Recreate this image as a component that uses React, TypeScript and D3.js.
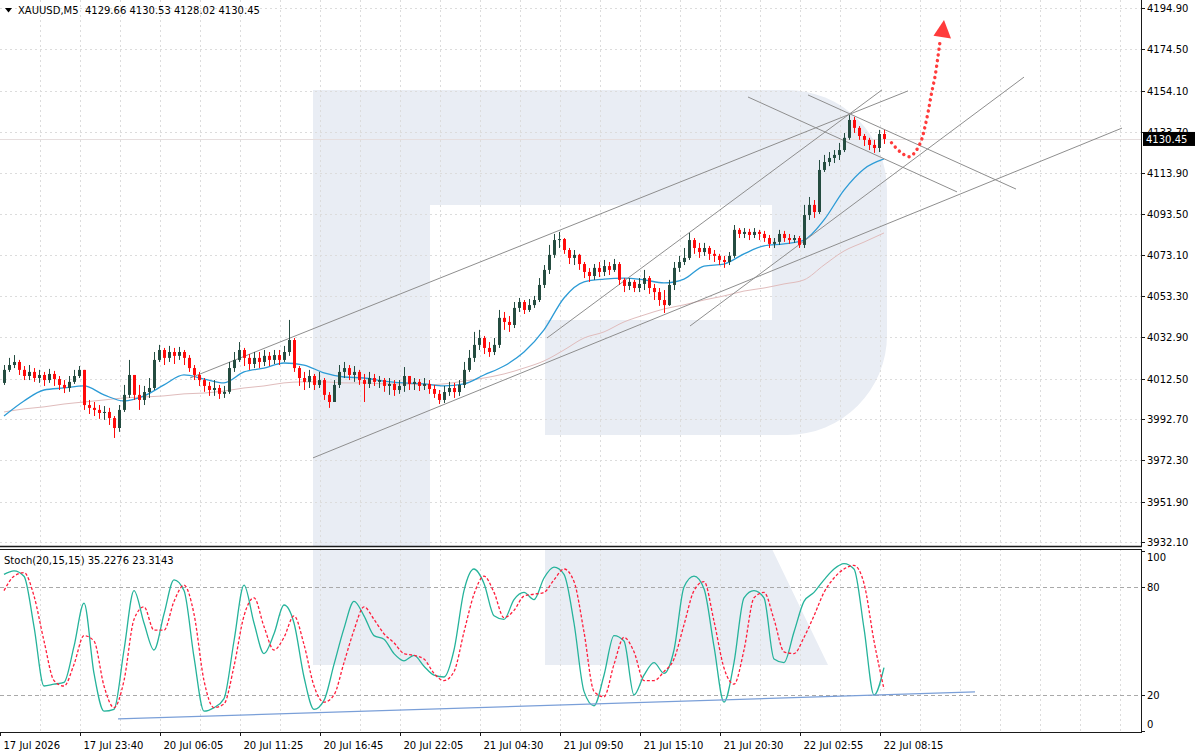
import React, { useEffect, useRef } from "react";
import * as d3 from "d3";

const W = 1200;
const H = 756;

const symbolLegend = "XAUUSD,M5  4129.66 4130.53 4128.02 4130.45";
const stochLegend = "Stoch(20,15,15) 35.2276 23.3143";
const lastPrice = 4130.45;
const firstOpen = 4010.4;

// aggregated candles (each = 4 x M5 bars)
const closes = [
  4016.8, 4019.2, 4020.7, 4016.8, 4013.8, 4015.8, 4012.8, 4014.3, 4011.8, 4014.8,
  4012.3, 4009.4, 4007.9, 4010.9, 4013.8, 4016.8, 3999.5, 3998.1, 3997.1, 3995.6,
  3996.1, 3993.1, 3988.2, 3997.1, 4004.5, 4014.3, 4004.5, 4002.0, 4005.9, 4007.9,
  4021.7, 4026.6, 4022.7, 4025.6, 4023.7, 4025.6, 4022.7, 4017.7, 4014.3, 4011.8,
  4008.9, 4006.9, 4007.9, 4005.0, 4006.0, 4017.7, 4021.7, 4026.6, 4022.7, 4019.7,
  4022.7, 4020.7, 4023.7, 4021.7, 4024.1, 4021.7, 4025.6, 4031.5, 4017.7, 4012.8,
  4010.9, 4013.8, 4009.4, 4011.8, 4004.5, 4001.0, 4009.4, 4015.8, 4017.7, 4014.3,
  4015.8, 4011.8, 4009.9, 4012.8, 4010.9, 4011.8, 4008.9, 4009.9, 4006.9, 4008.9,
  4013.8, 4009.9, 4010.9, 4008.9, 4009.9, 4007.4, 4005.0, 4002.0, 4005.9, 4007.9,
  4005.9, 4009.4, 4016.8, 4022.7, 4029.1, 4032.5, 4027.6, 4025.6, 4029.1, 4042.4,
  4040.4, 4038.9, 4047.3, 4050.2, 4046.3, 4048.7, 4051.2, 4058.6, 4066.0, 4073.4,
  4080.7, 4081.2, 4075.8, 4071.9, 4073.4, 4068.9, 4065.0, 4063.0, 4067.0, 4065.0,
  4067.9, 4066.0, 4068.9, 4061.1, 4058.1, 4060.1, 4057.1, 4059.1, 4062.0, 4057.1,
  4055.1, 4051.2, 4048.7, 4058.6, 4067.0, 4069.9, 4071.9, 4080.7, 4076.8, 4074.8,
  4076.8, 4073.9, 4072.9, 4070.9, 4069.9, 4072.9, 4085.7, 4083.7, 4084.7, 4083.2,
  4084.7, 4083.7, 4081.7, 4078.8, 4079.8, 4083.7, 4081.7, 4080.7, 4081.7, 4078.3,
  4093.0, 4098.0, 4094.5, 4115.2, 4119.1, 4121.1, 4122.6, 4125.0, 4131.0, 4139.8,
  4135.9, 4131.9, 4130.0, 4127.5, 4126.0, 4132.9, 4130.45,
];

const highs = [
  4019.2, 4022.7, 4024.1, 4021.7, 4018.7, 4019.2, 4017.7, 4016.8, 4015.8, 4017.3,
  4016.3, 4013.8, 4011.8, 4013.8, 4016.8, 4018.7, 4016.8, 4002.0, 4001.0, 3999.5,
  3999.0, 3998.1, 3994.1, 3999.5, 4009.4, 4021.7, 4012.8, 4009.4, 4008.9, 4012.8,
  4025.6, 4029.1, 4027.6, 4028.6, 4027.6, 4028.1, 4026.6, 4024.1, 4019.2, 4015.8,
  4012.8, 4010.9, 4011.8, 4009.4, 4008.9, 4020.7, 4025.6, 4030.5, 4027.6, 4024.6,
  4025.6, 4025.6, 4026.6, 4025.6, 4026.6, 4026.6, 4028.6, 4041.4, 4032.5, 4018.7,
  4015.8, 4016.8, 4014.8, 4015.8, 4012.8, 4005.9, 4011.8, 4019.2, 4020.7, 4019.2,
  4018.7, 4016.8, 4014.8, 4015.8, 4014.8, 4013.8, 4012.8, 4012.8, 4011.8, 4011.8,
  4018.2, 4013.8, 4012.8, 4012.3, 4012.8, 4011.8, 4009.4, 4006.9, 4008.9, 4010.9,
  4010.4, 4011.8, 4020.7, 4026.6, 4035.5, 4036.5, 4033.5, 4030.5, 4032.5, 4046.3,
  4045.3, 4043.3, 4050.2, 4052.2, 4051.2, 4051.7, 4053.2, 4062.0, 4068.4, 4078.3,
  4083.7, 4084.7, 4081.7, 4076.8, 4075.8, 4073.9, 4069.9, 4066.9, 4068.9, 4069.9,
  4070.9, 4069.9, 4071.4, 4069.9, 4062.0, 4062.0, 4061.1, 4062.0, 4066.0, 4063.0,
  4059.1, 4057.1, 4056.1, 4061.1, 4069.9, 4072.9, 4076.8, 4084.2, 4081.7, 4079.3,
  4079.3, 4077.8, 4075.8, 4073.9, 4072.9, 4074.8, 4088.1, 4086.6, 4086.6, 4086.2,
  4086.6, 4085.7, 4085.2, 4083.2, 4081.7, 4085.7, 4085.2, 4083.7, 4083.2, 4082.7,
  4098.0, 4101.9, 4100.4, 4120.1, 4122.6, 4124.0, 4125.0, 4128.5, 4133.4, 4142.2,
  4141.3, 4136.8, 4132.9, 4131.0, 4130.0, 4134.9, 4134.9,
];

const lows = [
  4009.4, 4015.8, 4017.7, 4014.3, 4011.8, 4011.8, 4010.9, 4010.4, 4008.9, 4010.4,
  4008.9, 4006.9, 4005.4, 4006.0, 4009.9, 4012.8, 3997.1, 3995.1, 3994.1, 3992.7,
  3992.2, 3989.7, 3983.3, 3986.3, 3996.1, 4003.0, 4002.0, 3997.1, 3999.5, 4003.0,
  4006.9, 4020.7, 4019.2, 4020.7, 4019.7, 4021.7, 4019.2, 4015.8, 4011.8, 4008.9,
  4006.0, 4004.0, 4004.0, 4002.5, 4003.0, 4005.0, 4015.8, 4020.7, 4018.7, 4016.8,
  4017.7, 4017.7, 4018.7, 4018.7, 4019.7, 4019.2, 4020.7, 4023.7, 4015.8, 4008.9,
  4006.9, 4007.9, 4006.9, 4007.9, 4002.0, 3998.1, 4001.0, 4007.9, 4012.8, 4011.8,
  4010.9, 4009.4, 4001.0, 4007.9, 4008.9, 4007.9, 4006.0, 4004.5, 4004.0, 4005.0,
  4006.0, 4006.9, 4006.9, 4006.4, 4006.9, 4005.0, 4003.0, 4000.0, 4000.5, 4004.0,
  4003.0, 4004.0, 4007.9, 4015.8, 4020.7, 4026.6, 4024.6, 4023.2, 4024.1, 4027.6,
  4036.5, 4035.5, 4037.4, 4045.3, 4044.3, 4045.3, 4047.3, 4050.2, 4057.1, 4064.0,
  4071.9, 4076.8, 4073.9, 4068.9, 4068.4, 4066.0, 4062.0, 4060.1, 4061.1, 4062.5,
  4063.0, 4063.5, 4065.0, 4058.6, 4055.1, 4056.1, 4055.1, 4055.1, 4056.1, 4054.2,
  4051.2, 4048.3, 4044.8, 4048.3, 4056.1, 4065.0, 4068.4, 4070.9, 4073.9, 4071.9,
  4072.9, 4070.9, 4069.9, 4068.4, 4067.0, 4068.4, 4071.9, 4081.7, 4081.7, 4080.7,
  4081.7, 4080.7, 4079.8, 4076.8, 4076.8, 4078.3, 4079.8, 4078.8, 4079.3, 4076.8,
  4076.8, 4090.6, 4091.6, 4093.5, 4114.2, 4117.1, 4118.6, 4120.1, 4124.0, 4130.0,
  4133.4, 4130.0, 4127.0, 4125.0, 4123.6, 4124.0, 4128.0,
];

// moving averages, sampled every 4 candles
const maFast = [
  3994.1, 4001.5, 4006.9, 4007.9, 4008.9, 4004.5, 4001.5, 4004.0, 4009.4, 4014.3,
  4012.3, 4010.4, 4015.8, 4017.7, 4020.2, 4019.2, 4015.3, 4013.3, 4012.8, 4011.3,
  4010.4, 4009.9, 4008.9, 4009.9, 4014.3, 4018.7, 4025.6, 4036.5, 4052.2, 4060.1,
  4061.5, 4062.0, 4061.1, 4059.6, 4061.5, 4067.9, 4068.9, 4073.9, 4077.8, 4078.8,
  4080.7, 4090.6, 4105.3, 4115.7, 4120.6,
];
const maSlow = [
  3996.1, 3997.6, 3998.6, 4000.0, 4001.0, 4002.0, 4003.0, 4003.5, 4004.0, 4005.0,
  4005.4, 4006.4, 4007.9, 4008.9, 4010.4, 4010.9, 4010.9, 4010.4, 4010.4, 4009.9,
  4009.9, 4009.4, 4009.9, 4011.3, 4012.8, 4014.8, 4017.7, 4021.2, 4026.6, 4032.5,
  4035.5, 4040.4, 4043.8, 4046.8, 4048.8, 4051.2, 4053.2, 4055.6, 4057.1, 4059.1,
  4061.1, 4068.4, 4075.3, 4079.7, 4084.2,
];

// stochastic, sampled every 2 candles
const stochK = [
  87, 89, 86, 58, 25, 26, 27, 47, 71, 32,
  11, 12, 45, 78, 60, 45, 65, 84, 78, 41,
  11, 13, 18, 50, 81, 60, 43, 54, 70, 60,
  30, 12, 17, 37, 57, 72, 64, 53, 51, 43,
  39, 42, 36, 31, 30, 45, 78, 90, 82, 64,
  62, 73, 77, 73, 85, 91, 87, 60, 22, 14,
  31, 53, 50, 20, 31, 38, 32, 45, 80, 86,
  79, 47, 16, 38, 74, 78, 74, 40, 38, 55,
  72, 77, 84, 90, 93, 90, 57, 20, 35.2276,
];
const stochD = [
  78, 86, 88, 75, 50, 28, 25, 37, 53, 50,
  25, 13, 28, 62, 69, 56, 56, 72, 81, 65,
  28, 13, 15, 36, 64, 74, 58, 45, 52, 64,
  48, 25, 16, 20, 38, 56, 69, 62, 54, 49,
  43, 42, 40, 32, 28, 33, 55, 76, 86, 77,
  63, 67, 75, 76, 77, 84, 90, 83, 55, 22,
  19, 37, 52, 44, 28, 28, 33, 40, 59, 78,
  83, 61, 35, 26, 45, 74, 77, 62, 44, 43,
  52, 64, 77, 85, 90, 92, 82, 50, 23.3143,
];

const priceTicks = [
  4194.9, 4174.5, 4154.1, 4133.7, 4113.9, 4093.5, 4073.1, 4053.3, 4032.9,
  4012.5, 3992.7, 3972.3, 3951.9, 3932.1,
];
const timeLabels = [
  "17 Jul 2026", "17 Jul 23:40", "20 Jul 06:05", "20 Jul 11:25", "20 Jul 16:45",
  "20 Jul 22:05", "21 Jul 04:30", "21 Jul 09:50", "21 Jul 15:10", "21 Jul 20:30",
  "22 Jul 02:55", "22 Jul 08:15",
];
const stochLevels = [80, 20];
const stochTicks = [100, 80, 20, 0];

// drawings anchored in (candle index, price)
const trendLines = [
  [37.2, 4012.8, 180.8, 4154.1],
  [61.8, 3973.5, 223.6, 4135.8],
  [108.6, 4032.5, 175.6, 4154.6],
  [137.2, 4038.4, 204.0, 4160.9],
  [148.8, 4151.1, 190.6, 4104.4],
  [160.8, 4152.1, 202.4, 4105.8],
];
const stochTrend = [22.8, 6.7, 194.2, 21.7];
const forecastPath = [
  [177.5, 4128.6], [179.2, 4124.2], [181.1, 4121.7], [182.5, 4125.0], [183.5, 4130.0],
  [184.2, 4136.5], [184.9, 4144.7], [185.5, 4152.9], [186.2, 4161.1], [186.7, 4169.3],
  [187.2, 4178.3],
];
const forecastHead = [[185.9, 4181.2], [189.4, 4179.9], [188.0, 4189.0]];

const FONT = "DejaVu Sans, Tahoma, sans-serif";

export default function App() {
  const ref = useRef<SVGSVGElement>(null);

  useEffect(() => {
    document.body.style.margin = "0";
    const svg = d3.select(ref.current);
    svg.selectAll("*").remove();

    const mainR = 1141;
    const mainB = 546;
    const stTop = 549;
    const stBot = 732;

    const x = d3.scaleLinear().domain([0, closes.length - 1]).range([4, 884]);
    const y = d3.scaleLinear().domain([3932.1, 4194.9]).range([542, 8]);
    const ys = d3.scaleLinear().domain([0, 100]).range([731, 551]);

    svg.append("rect").attr("width", W).attr("height", H).attr("fill", "#ffffff");

    const ly = y(lastPrice);
    const defs = svg.append("defs");
    defs.append("clipPath").attr("id", "clipMain").append("rect")
      .attr("x", 0).attr("y", 0).attr("width", mainR).attr("height", mainB);
    defs.append("clipPath").attr("id", "clipSt").append("rect")
      .attr("x", 0).attr("y", stTop).attr("width", mainR).attr("height", stBot - stTop);
    defs.append("clipPath").attr("id", "clipAbove").append("rect")
      .attr("x", mainR).attr("y", 0).attr("width", 80).attr("height", ly - 7);

    // watermark
    const wm = "#e9edf4";
    svg.append("path").attr("clip-path", "url(#clipMain)").attr("fill", wm)
      .attr("d", "M313,90 H787 A100,100 0 0 1 887,190 V335 A100,100 0 0 1 787,435 H545 V320 H772 V205 H430 V546 H313 Z");
    svg.append("path").attr("clip-path", "url(#clipSt)").attr("fill", wm)
      .attr("d", "M313,549 H430 V665 H313 Z M545,549 H772 L828,665 H545 Z");

    // grid
    const gridC = "#dcdcdc";
    const gMain = svg.append("g").attr("clip-path", "url(#clipMain)");
    priceTicks.forEach((p) => {
      gMain.append("line").attr("x1", 0).attr("x2", mainR)
        .attr("y1", Math.round(y(p)) + 0.5).attr("y2", Math.round(y(p)) + 0.5)
        .attr("stroke", gridC).attr("stroke-dasharray", "2,3");
    });
    const vGrid = d3.range(1, 29).map((m) => x(8 * m - 0.8));
    vGrid.forEach((gx) => {
      gMain.append("line").attr("x1", Math.round(gx) + 0.5).attr("x2", Math.round(gx) + 0.5)
        .attr("y1", 0).attr("y2", mainB).attr("stroke", gridC).attr("stroke-dasharray", "2,3");
      svg.append("line").attr("x1", Math.round(gx) + 0.5).attr("x2", Math.round(gx) + 0.5)
        .attr("y1", stTop).attr("y2", stBot).attr("stroke", gridC).attr("stroke-dasharray", "2,3");
    });

    // bid line
    gMain.append("line").attr("x1", 0).attr("x2", mainR)
      .attr("y1", Math.round(ly) + 0.5).attr("y2", Math.round(ly) + 0.5)
      .attr("stroke", "#e6dede");

    // moving averages
    const maLine = d3.line<number>()
      .x((_, k) => x(k * 4))
      .y((v) => y(v))
      .curve(d3.curveMonotoneX);
    gMain.append("path").attr("d", maLine(maSlow)).attr("fill", "none")
      .attr("stroke", "#e0bcbc").attr("stroke-width", 1);
    gMain.append("path").attr("d", maLine(maFast)).attr("fill", "none")
      .attr("stroke", "#2c9bd6").attr("stroke-width", 1.3);

    // trend lines
    trendLines.forEach(([i1, p1, i2, p2]) => {
      gMain.append("line").attr("x1", x(i1)).attr("y1", y(p1)).attr("x2", x(i2)).attr("y2", y(p2))
        .attr("stroke", "#8e8e8e").attr("stroke-width", 1);
    });

    // candles
    const bull = "#244c40";
    const bear = "#ff0a0a";
    const gC = gMain.append("g");
    closes.forEach((c, i) => {
      const o = i === 0 ? firstOpen : closes[i - 1];
      const h = Math.max(highs[i], o, c);
      const l = Math.min(lows[i], o, c);
      const col = c >= o ? bull : bear;
      const cx = Math.round(x(i));
      gC.append("line").attr("x1", cx + 0.5).attr("x2", cx + 0.5)
        .attr("y1", y(h)).attr("y2", y(l)).attr("stroke", col).attr("stroke-width", 1);
      const top = y(Math.max(o, c));
      const bot = y(Math.min(o, c));
      gC.append("rect").attr("x", cx - 1).attr("width", 3)
        .attr("y", top).attr("height", Math.max(1, bot - top)).attr("fill", col);
    });

    // forecast arrow
    const fLine = d3.line<number[]>().x((d) => x(d[0])).y((d) => y(d[1])).curve(d3.curveCatmullRom);
    svg.append("path").attr("d", fLine(forecastPath)).attr("fill", "none")
      .attr("stroke", "#ff3b3b").attr("stroke-width", 3.4).attr("stroke-linecap", "round")
      .attr("stroke-dasharray", "0.1,5.6");
    svg.append("path")
      .attr("d", "M" + forecastHead.map((d) => `${x(d[0])},${y(d[1])}`).join("L") + "Z")
      .attr("fill", "#ff3b3b");

    // stochastic
    const gSt = svg.append("g").attr("clip-path", "url(#clipSt)");
    stochLevels.forEach((lv) => {
      gSt.append("line").attr("x1", 0).attr("x2", mainR)
        .attr("y1", Math.round(ys(lv)) + 0.5).attr("y2", Math.round(ys(lv)) + 0.5)
        .attr("stroke", "#a9a9a9").attr("stroke-dasharray", "4,3");
    });
    const stLine = d3.line<number>()
      .x((_, k) => x(k * 2))
      .y((v) => ys(v))
      .curve(d3.curveMonotoneX);
    gSt.append("path").attr("d", stLine(stochK)).attr("fill", "none")
      .attr("stroke", "#25b39b").attr("stroke-width", 1.3);
    gSt.append("path").attr("d", stLine(stochD)).attr("fill", "none")
      .attr("stroke", "#ff1e3c").attr("stroke-width", 1.3).attr("stroke-dasharray", "3,2");
    gSt.append("line")
      .attr("x1", x(stochTrend[0])).attr("y1", ys(stochTrend[1]))
      .attr("x2", x(stochTrend[2])).attr("y2", ys(stochTrend[3]))
      .attr("stroke", "#7a9fd8").attr("stroke-width", 1.2);

    // frames
    const frame = "#1a1a1a";
    svg.append("line").attr("x1", mainR + 0.5).attr("x2", mainR + 0.5).attr("y1", 0).attr("y2", mainB + 1)
      .attr("stroke", frame);
    svg.append("line").attr("x1", 0).attr("x2", mainR + 1).attr("y1", mainB + 0.5).attr("y2", mainB + 0.5)
      .attr("stroke", frame).attr("stroke-width", 1.5);
    svg.append("rect").attr("x", -1).attr("y", stTop + 0.5).attr("width", mainR + 1.5)
      .attr("height", stBot - stTop).attr("fill", "none").attr("stroke", frame);

    // price axis
    const gAx = svg.append("g").attr("font-family", FONT).attr("font-size", 10).attr("fill", "#000");
    priceTicks.forEach((p) => {
      const py = Math.round(y(p)) + 0.5;
      gAx.append("line").attr("x1", mainR).attr("x2", mainR + 4).attr("y1", py).attr("y2", py).attr("stroke", frame);
      const covered = Math.abs(y(p) - ly) < 12;
      gAx.append("text").attr("x", mainR + 6).attr("y", py).attr("dy", "0.36em")
        .attr("clip-path", covered ? "url(#clipAbove)" : null)
        .text(p.toFixed(2));
    });
    gAx.append("rect").attr("x", mainR + 2).attr("y", ly - 7).attr("width", 52).attr("height", 14).attr("fill", "#000");
    gAx.append("text").attr("x", mainR + 5).attr("y", ly).attr("dy", "0.36em").attr("fill", "#fff")
      .text(lastPrice.toFixed(2));

    // stoch axis
    stochTicks.forEach((v) => {
      const py = Math.round(ys(v)) + 0.5;
      gAx.append("line").attr("x1", mainR).attr("x2", mainR + 4).attr("y1", py).attr("y2", py).attr("stroke", frame);
      const ty = Math.min(Math.max(ys(v), stTop + 8), stBot - 8);
      gAx.append("text").attr("x", mainR + 6).attr("y", ty).attr("dy", "0.36em").text(String(v));
    });

    // time axis
    timeLabels.forEach((t, k) => {
      const tx = Math.round(x(16 * k - 0.8)) + 0.5;
      gAx.append("line").attr("x1", tx).attr("x2", tx).attr("y1", stBot).attr("y2", stBot + 4).attr("stroke", frame);
      gAx.append("text").attr("x", tx + 3).attr("y", 749).text(t);
    });

    // legends
    svg.append("path").attr("d", "M5,8 L12,8 L8.5,12.5 Z").attr("fill", "#000");
    svg.append("text").attr("x", 18).attr("y", 14).attr("font-family", FONT).attr("font-size", 10)
      .attr("fill", "#000").text(symbolLegend).style("white-space", "pre");
    svg.append("text").attr("x", 4).attr("y", 564).attr("font-family", FONT).attr("font-size", 10)
      .attr("fill", "#000").text(stochLegend);
  }, []);

  return <svg ref={ref} width={W} height={H} style={{ display: "block" }} />;
}
